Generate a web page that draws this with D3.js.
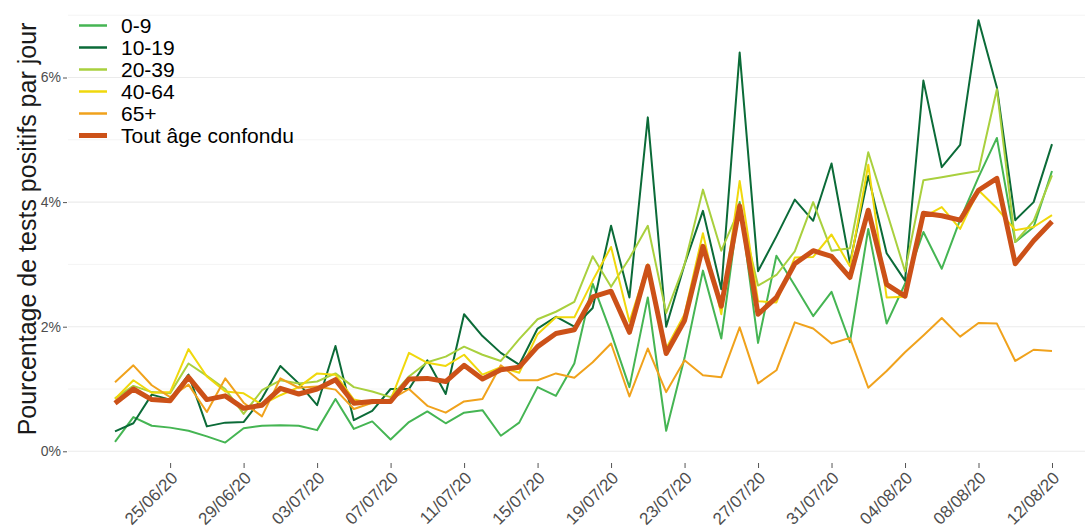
<!DOCTYPE html>
<html>
<head>
<meta charset="utf-8">
<script src="https://cdn.jsdelivr.net/npm/d3@7"></script>
<style>
  body { margin: 0; background: #fff; }
  svg { font-family: "Liberation Sans", Arial, sans-serif; }
</style>
</head>
<body>
<div class="container"></div>
<script>
const w = 1085;
const h = 531;

// 22/06/20 -> 12/08/20, one value per day
const startDay = new Date(2020, 5, 22);
const endDay = new Date(2020, 7, 12);
const days = d3.timeDay.range(startDay, d3.timeDay.offset(endDay, 1));

const tickLabels = ['25/06/20','29/06/20','03/07/20','07/07/20','11/07/20','15/07/20','19/07/20',
  '23/07/20','27/07/20','31/07/20','04/08/20','08/08/20','12/08/20'];
const yTicks = [0, 2, 4, 6];
const yMinor = [1, 3, 5, 7];

const ages = ['0-9', '10-19', '20-39', '40-64', '65+', 'Tout âge confondu'];
const colors = ['#45b553', '#0b6b38', '#a9d03e', '#f0d80c', '#f0a21c', '#cc5118'];

const age0_9 = [0.15,0.55,0.41,0.38,0.33,0.24,0.14,0.37,0.41,0.42,0.41,0.34,0.84,0.36,0.48,0.19,0.47,0.64,0.45,0.62,
  0.66,0.25,0.46,1.03,0.89,1.41,2.69,1.9,1.03,2.47,0.33,1.5,2.9,1.81,4.0,1.74,3.14,2.66,2.17,2.56,
  1.75,3.57,2.05,2.69,3.52,2.93,3.72,4.4,5.03,3.36,3.6,4.5];
const age10_19 = [0.32,0.45,0.91,0.83,1.23,0.40,0.46,0.47,0.85,1.37,1.09,0.74,1.69,0.50,0.65,1.0,1.0,1.46,0.92,2.2,
  1.85,1.58,1.39,1.97,2.16,2.0,2.3,3.62,2.47,5.36,2.0,3.0,3.86,2.6,6.4,2.89,3.45,4.04,3.7,4.62,
  3.02,4.42,3.18,2.74,5.95,4.56,4.92,6.92,5.84,3.71,4.0,4.93];
const age20_39 = [0.85,1.05,0.95,0.93,1.41,1.21,1.0,0.6,0.98,1.14,1.09,1.12,1.25,1.03,0.96,0.87,1.2,1.43,1.52,1.68,
  1.55,1.45,1.8,2.12,2.24,2.4,3.13,2.64,3.1,3.62,2.22,3.0,4.2,3.22,3.9,2.66,2.83,3.21,4.0,3.22,
  3.26,4.8,3.85,2.89,4.35,4.4,4.45,4.5,5.81,3.36,3.7,4.43];
const age40_64 = [0.84,1.14,0.94,0.95,1.64,1.2,0.96,0.93,0.75,0.9,1.03,1.25,1.23,0.83,0.77,0.82,1.58,1.42,1.37,1.55,
  1.23,1.35,1.26,1.88,2.15,2.15,2.74,3.28,2.08,3.0,1.65,2.2,3.5,2.2,4.34,2.41,2.39,3.11,3.12,3.48,
  2.97,4.6,2.47,2.48,3.76,3.92,3.57,4.19,3.9,3.55,3.6,3.79];
const age65 = [1.11,1.38,1.06,0.87,1.07,0.63,1.17,0.78,0.56,1.17,1.02,1.04,0.99,0.68,0.78,0.83,1.0,0.73,0.62,0.8,
  0.84,1.38,1.14,1.14,1.25,1.18,1.43,1.73,0.88,1.65,0.95,1.46,1.22,1.19,1.99,1.09,1.3,2.07,1.97,1.73,
  1.82,1.02,1.29,1.59,1.86,2.14,1.84,2.06,2.05,1.45,1.63,1.61];
const allAges = [0.77,1.0,0.83,0.81,1.19,0.83,0.89,0.69,0.74,1.01,0.92,1.0,1.15,0.77,0.8,0.8,1.16,1.17,1.12,1.38,
  1.16,1.31,1.35,1.68,1.89,1.95,2.48,2.57,1.91,2.97,1.57,2.1,3.29,2.33,3.94,2.2,2.47,3.01,3.22,3.13,
  2.79,3.87,2.68,2.49,3.82,3.78,3.71,4.19,4.38,3.01,3.38,3.69];

const series = [age0_9, age10_19, age20_39, age40_64, age65, allAges];

const parseTick = d3.timeParse('%d/%m/%y');

const svg = d3.select('.container').append('svg')
  .attr('width', w)
  .attr('height', h);

const x = d3.scaleTime()
  .domain([startDay, endDay])
  .range([115, 1052]);

const y = d3.scaleLinear()
  .domain([0, 7])
  .range([451.3, 15.2]);

// grid
svg.append('g').selectAll('line')
  .data(yMinor)
  .enter().append('line')
    .attr('x1', 68).attr('x2', w)
    .attr('y1', d => y(d)).attr('y2', d => y(d))
    .attr('stroke', '#f4f4f4')
    .attr('stroke-width', 1);

svg.append('g').selectAll('line')
  .data(yTicks)
  .enter().append('line')
    .attr('x1', 68).attr('x2', w)
    .attr('y1', d => y(d)).attr('y2', d => y(d))
    .attr('stroke', '#ebebeb')
    .attr('stroke-width', 1.1);

// y axis
const yAxis = d3.axisLeft(y)
  .tickValues(yTicks)
  .tickSize(4)
  .tickPadding(2)
  .tickFormat(d => d + '%');

svg.append('g')
  .attr('transform', 'translate(67,0)')
  .call(yAxis)
  .call(g => g.select('.domain').remove())
  .call(g => g.selectAll('line').attr('stroke', '#555'))
  .call(g => g.selectAll('text').attr('fill', '#4d4d4d').attr('font-size', 14));

// x axis
const xAxis = d3.axisBottom(x)
  .tickValues(tickLabels.map(parseTick))
  .tickSize(5)
  .tickFormat(d3.timeFormat('%d/%m/%y'));

svg.append('g')
  .attr('transform', 'translate(0,463)')
  .call(xAxis)
  .call(g => g.select('.domain').remove())
  .call(g => g.selectAll('line').attr('stroke', '#555'))
  .call(g => g.selectAll('text')
    .attr('fill', '#4d4d4d')
    .attr('font-size', 17)
    .attr('text-anchor', 'end')
    .attr('dy', null)
    .attr('y', null)
    .attr('transform', 'translate(8,16) rotate(-45)'));

// lines
const line = d3.line()
  .x((d, i) => x(days[i]))
  .y(d => y(d));

svg.append('g').selectAll('path')
  .data(series)
  .enter().append('path')
    .attr('d', line)
    .attr('fill', 'none')
    .attr('stroke', (d, i) => colors[i])
    .attr('stroke-width', (d, i) => i === 5 ? 5 : 2)
    .attr('stroke-linejoin', 'round');

// y title
svg.append('text')
  .attr('transform', 'translate(36,229) rotate(-90)')
  .attr('text-anchor', 'middle')
  .attr('font-size', 25)
  .attr('fill', '#1a1a1a')
  .text('Pourcentage de tests positifs par jour');

// legend
const legend = svg.append('g')
  .attr('transform', 'translate(79,25.5)');

const item = legend.selectAll('g')
  .data(ages)
  .enter().append('g')
    .attr('transform', (d, i) => `translate(0,${i * 22})`);

item.append('line')
  .attr('x1', 0).attr('x2', 28)
  .attr('stroke', (d, i) => colors[i])
  .attr('stroke-width', (d, i) => i === 5 ? 5 : 2.5);

item.append('text')
  .attr('x', 42)
  .attr('dy', '0.36em')
  .attr('font-size', 21)
  .attr('fill', '#000')
  .text(d => d);
</script>
</body>
</html>
